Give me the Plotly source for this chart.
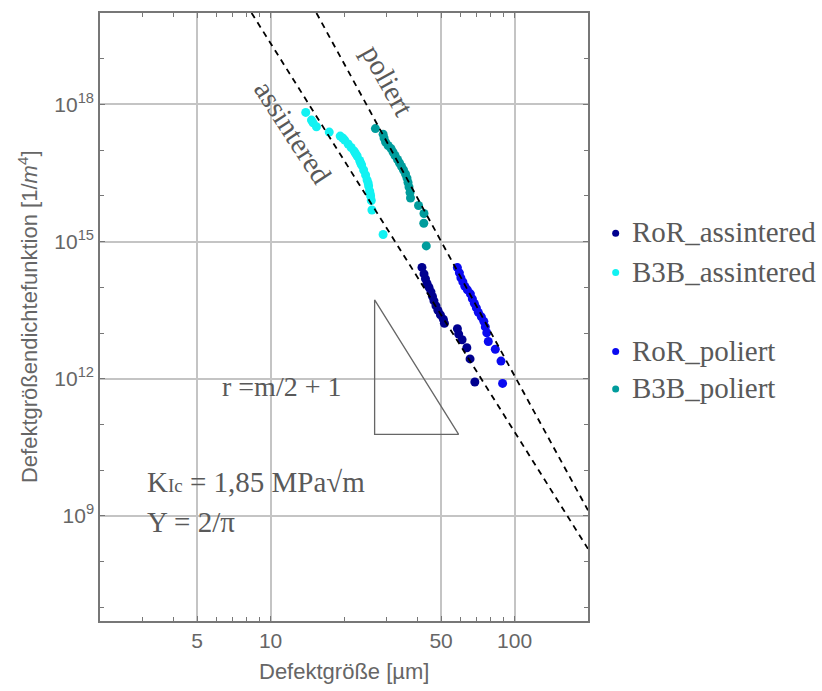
import plotly.graph_objects as go

# Defect size [µm] and defect size density [1/m^4] per specimen series
ror_assintered_x = [41.74, 42.55, 43.15, 43.77, 44.60, 45.44, 46.08, 46.74, 47.63, 48.53,
                    49.68, 51.10, 51.59, 58.32, 59.03, 60.95, 63.76, 65.71, 68.75]
ror_assintered_y = [2.72e14, 1.96e14, 1.53e14, 1.22e14, 9.96e13, 7.94e13, 6.34e13, 5.05e13,
                    3.93e13, 3.13e13, 2.50e13, 1.99e13, 1.63e13, 1.24e13, 9.47e12, 7.10e12,
                    4.75e12, 2.71e12, 8.47e11]

b3b_assintered_x = [13.94, 14.71, 14.94, 15.42, 17.40, 19.29, 19.75, 20.13, 20.80, 21.39,
                    22.01, 22.32, 22.64, 23.18, 23.40, 23.62, 24.07, 24.52, 24.87, 25.11,
                    25.23, 25.47, 25.59, 25.71, 25.88, 26.03, 28.93]
b3b_assintered_y = [6.69e17, 4.54e17, 3.96e17, 3.24e17, 2.48e17, 2.03e17, 1.84e17, 1.66e17,
                    1.36e17, 1.14e17, 9.55e16, 8.41e16, 7.43e16, 5.92e16, 5.22e16, 4.72e16,
                    3.67e16, 2.86e16, 2.22e16, 1.91e16, 1.64e16, 1.28e16, 1.13e16, 9.93e15,
                    7.92e15, 4.91e15, 1.43e15]

ror_poliert_x = [58.31, 59.42, 60.26, 61.41, 62.58, 64.07, 65.91, 67.16, 68.43, 69.73,
                 71.06, 73.10, 74.84, 75.89, 76.96, 78.07, 83.39, 87.99, 89.32]
ror_poliert_y = [2.70e14, 2.07e14, 1.61e14, 1.31e14, 1.05e14, 8.79e13, 7.18e13, 5.58e13,
                 4.45e13, 3.55e13, 2.83e13, 2.26e13, 1.80e13, 1.36e13, 1.01e13, 6.51e12,
                 4.40e12, 2.43e12, 7.89e11]

b3b_poliert_x = [26.90, 28.93, 29.19, 29.61, 30.31, 31.18, 31.77, 32.37, 33.14, 33.77,
                 34.42, 35.07, 35.74, 36.24, 36.59, 36.94, 37.29, 37.46, 40.40, 42.55,
                 42.46, 43.47]
b3b_poliert_y = [2.96e17, 2.24e17, 1.84e17, 1.50e17, 1.26e17, 1.08e17, 9.08e16, 7.62e16,
                 6.23e16, 5.22e16, 4.38e16, 3.67e16, 3.00e16, 2.45e16, 1.96e16, 1.56e16,
                 1.18e16, 8.97e15, 6.15e15, 4.12e15, 2.52e15, 8.04e14]

# Power-law reference lines (end points)
fit_assintered_x = [8.36, 200]
fit_assintered_y = [1e20, 1.9e8]
fit_poliert_x = [15.42, 200]
fit_poliert_y = [1e20, 1.32e9]

# Slope triangle
triangle_x = [26.7, 26.7, 59.0, 26.7]
triangle_y = [5.31e13, 6.07e10, 6.07e10, 5.31e13]

series_names = ["RoR_assintered", "B3B_assintered", "RoR_poliert", "B3B_poliert"]
series_colors = ["#00008f", "#12f2f2", "#0a0af0", "#009c9c"]

x_tickvals = [5, 10, 50, 100]
x_ticktext = ["5", "10", "50", "100"]
x_minor = [3, 4, 6, 7, 8, 9, 20, 30, 40, 60, 70, 80, 90]
y_exponents = [9, 12, 15, 18]
y_minor_exponents = [7, 8, 10, 11, 13, 14, 16, 17, 19]

GRAY = "#595959"
SERIF = "Liberation Serif, Times New Roman, serif"
SANS = "Liberation Sans, Arial, sans-serif"

fig = go.Figure()

data = [
    (ror_assintered_x, ror_assintered_y),
    (b3b_assintered_x, b3b_assintered_y),
    (ror_poliert_x, ror_poliert_y),
    (b3b_poliert_x, b3b_poliert_y),
]
for (xs, ys), name, col in zip(data, series_names, series_colors):
    fig.add_trace(go.Scatter(x=xs, y=ys, mode="markers", name=name,
                             marker=dict(size=9, color=col, line=dict(width=0)),
                             showlegend=False))

for xs, ys in [(fit_assintered_x, fit_assintered_y), (fit_poliert_x, fit_poliert_y)]:
    fig.add_trace(go.Scatter(x=xs, y=ys, mode="lines", showlegend=False,
                             line=dict(color="black", width=1.8, dash="6px,5px")))

fig.add_trace(go.Scatter(x=triangle_x, y=triangle_y, mode="lines", showlegend=False,
                         line=dict(color="#666666", width=1.3)))

axis_common = dict(
    type="log", showline=True, linecolor="#777777", linewidth=1.5, mirror="ticks",
    ticks="inside", ticklen=5, tickcolor="#777777", tickwidth=1.2,
    showgrid=True, gridcolor="#c4c4c4", gridwidth=1.5, zeroline=False,
    tickfont=dict(family=SANS, size=21, color="#666666"),
)

fig.update_xaxes(
    range=[0.30103, 2.30103], tickmode="array", tickvals=x_tickvals, ticktext=x_ticktext,
    minor=dict(tickmode="array", tickvals=x_minor, ticks="inside", ticklen=4,
               tickcolor="#777777", showgrid=False),
    **axis_common,
)
fig.update_yaxes(
    range=[6.7, 20], tickmode="array",
    tickvals=[10.0 ** e for e in y_exponents],
    ticktext=[f"10<sup>{e}</sup>" for e in y_exponents],
    minor=dict(tickmode="array", tickvals=[10.0 ** e for e in y_minor_exponents],
               ticks="inside", ticklen=4, tickcolor="#777777", showgrid=False),
    **axis_common,
)

annotations = [
    # axis titles
    dict(text="Defektgröße [µm]", xref="paper", yref="paper", x=0.5, y=-0.0833,
         xanchor="center", yanchor="middle", showarrow=False,
         font=dict(family=SANS, size=22, color="#666666")),
    dict(text="Defektgrößendichtefunktion [1/<i>m</i><sup>4</sup>]", xref="paper", yref="paper",
         x=-0.1474, y=0.5, xanchor="center", yanchor="middle", textangle=-90, showarrow=False,
         font=dict(family=SANS, size=22, color="#666666")),
    # line labels
    dict(text="poliert", x=1.4796, y=18.531, xanchor="center", yanchor="middle",
         textangle=61, showarrow=False, font=dict(family=SERIF, size=29, color=GRAY)),
    dict(text="assintered", x=1.0912, y=17.395, xanchor="center", yanchor="middle",
         textangle=57, showarrow=False, font=dict(family=SERIF, size=29, color=GRAY)),
    # formula texts
    dict(text="r =m/2 + 1", x=0.7927, y=11.825, xanchor="left", yanchor="middle",
         showarrow=False, font=dict(family=SERIF, size=28, color=GRAY)),
    dict(text='K<span style="font-size:19px">Ic</span> = 1,85 MPa√m', x=0.4861, y=9.75,
         xanchor="left", yanchor="middle", showarrow=False,
         font=dict(family=SERIF, size=29, color=GRAY)),
    dict(text="Y = 2/π", x=0.4861, y=8.876, xanchor="left", yanchor="middle",
         showarrow=False, font=dict(family=SERIF, size=29, color=GRAY)),
]

# legend entries placed to the right of the plot area
legend_dot_y = [0.6378, 0.5731, 0.4432, 0.3814]
legend_text_y = [0.640, 0.5747, 0.4448, 0.3830]
shapes = []
for name, col, dy, ty in zip(series_names, series_colors, legend_dot_y, legend_text_y):
    shapes.append(dict(type="circle", xref="paper", yref="paper", xsizemode="pixel",
                       ysizemode="pixel", xanchor=1.0567, yanchor=dy,
                       x0=-3.5, x1=3.5, y0=-3.5, y1=3.5,
                       fillcolor=col, line=dict(width=0)))
    annotations.append(dict(text=name, xref="paper", yref="paper", x=1.0854, y=ty,
                            xanchor="left", yanchor="middle", showarrow=False,
                            font=dict(family=SERIF, size=29, color=GRAY)))

fig.update_layout(
    width=822, height=691,
    margin=dict(l=100, r=234, t=13, b=70),
    paper_bgcolor="white", plot_bgcolor="white",
    showlegend=False,
    annotations=annotations,
    shapes=shapes,
)

fig.write_html("out.html")
